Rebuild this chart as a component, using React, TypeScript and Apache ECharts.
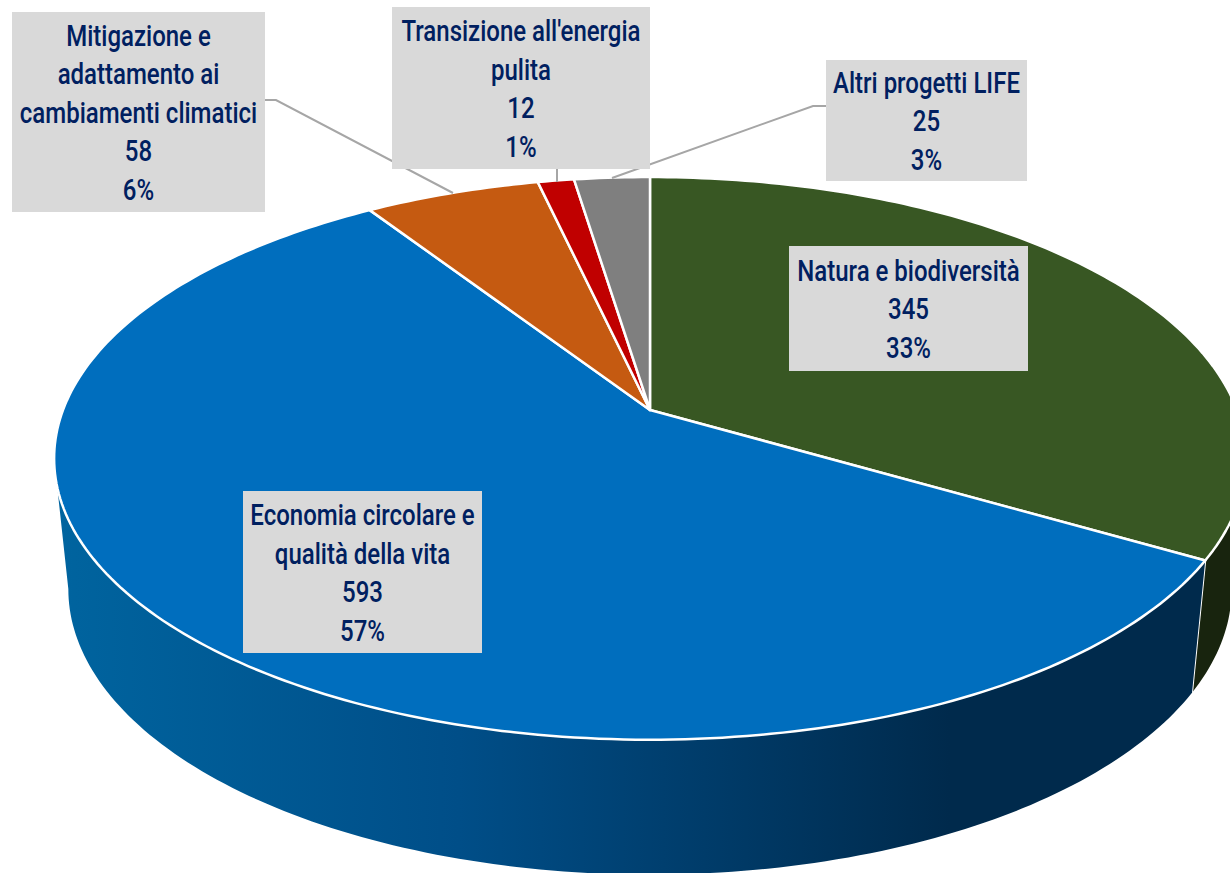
import React, { useEffect, useRef } from "react";
import * as echarts from "echarts";

const categories = [
  "Natura e biodiversità",
  "Economia circolare e\nqualità della vita",
  "Mitigazione e\nadattamento ai\ncambiamenti climatici",
  "Transizione all'energia\npulita",
  "Altri progetti LIFE",
];
const values = [345, 593, 58, 12, 25];
const percents = ["33%", "57%", "6%", "1%", "3%"];

const topColors = ["#385723", "#006EBE", "#C55A11", "#C00000", "#7F7F7F"];

// label boxes: x, y, w, h
const boxes = [
  [789, 246, 239, 125],
  [243, 491, 239, 162],
  [12, 12, 253, 200],
  [392, 7, 258, 162],
  [826, 60, 201, 121],
];
const leaders = [
  [[265, 100], [276, 100], [453, 193]],
  [[612, 178], [813, 106], [826, 106]],
  [[557, 169], [557, 182]],
];

// projection of the disc (perspective view)
const CX = 650;
const K = 0.172;
const TOP = { a: 587, b: 273, y0: 410 };
const BOTTOM = { a: 573, b: 277, y0: 540 };
// the wall is only visible between the two tangent points of the disc
const FRONT_START = Math.acos(-K);
const FRONT_END = Math.PI * 2 - FRONT_START;

const total = values.reduce((s, v) => s + v, 0);
const angleOf = (i: number) => {
  let s = 0;
  for (let j = 0; j < i; j++) s += values[j];
  return (s / total) * Math.PI * 2;
};
const project = (t: number, d: { a: number; b: number; y0: number }) => {
  const u = Math.sin(t);
  const v = Math.cos(t);
  const w = 1 + K * v;
  return [CX + (d.a * u) / w, d.y0 - (d.b * v) / w];
};
const rim = (a0: number, a1: number, d: { a: number; b: number; y0: number }) => {
  const n = Math.max(2, Math.ceil(Math.abs(a1 - a0) / (Math.PI / 180)));
  const pts: number[][] = [];
  for (let i = 0; i <= n; i++) pts.push(project(a0 + ((a1 - a0) * i) / n, d));
  return pts;
};

const wallFills = () => [
  "#18240E",
  new echarts.graphic.LinearGradient(
    57, 0, 950, 0,
    [
      { offset: 0, color: "#00649F" },
      { offset: 0.45, color: "#004E88" },
      { offset: 1, color: "#002A4C" },
    ],
    true
  ),
  "#7A3A0C",
  "#7A0000",
  "#4D4D4D",
];

const wallItem = (params: any, api: any) => {
  const i = params.dataIndex;
  api.value(0);
  const a0 = Math.max(angleOf(i), FRONT_START);
  const a1 = Math.min(angleOf(i + 1), FRONT_END);
  if (a1 <= a0) return { type: "group", children: [] };
  const fills = wallFills();
  const children: any[] = [
    {
      type: "polygon",
      shape: { points: [...rim(a0, a1, TOP), ...rim(a1, a0, BOTTOM)] },
      style: { fill: fills[i] },
    },
  ];
  if (angleOf(i + 1) < FRONT_END) {
    const p = project(a1, TOP);
    const q = project(a1, BOTTOM);
    children.push({
      type: "line",
      shape: { x1: p[0], y1: p[1], x2: q[0], y2: q[1] },
      style: { stroke: "#FFFFFF", lineWidth: 2 },
    });
  }
  return { type: "group", children };
};

const topItem = (params: any, api: any) => {
  const i = params.dataIndex;
  api.value(0);
  const a0 = angleOf(i);
  const a1 = angleOf(i + 1);
  return {
    type: "polygon",
    shape: { points: [[CX, TOP.y0], ...rim(a0, a1, TOP)] },
    style: { fill: topColors[i], stroke: "#FFFFFF", lineWidth: 2.5, lineJoin: "round" },
  };
};

const leaderItem = (params: any) => ({
  type: "polyline",
  shape: { points: leaders[params.dataIndex] },
  style: { stroke: "#A6A6A6", lineWidth: 2, fill: "none" },
});

const labelItem = (params: any) => {
  const i = params.dataIndex;
  const [x, y, w, h] = boxes[i];
  return {
    type: "group",
    children: [
      { type: "rect", shape: { x, y, width: w, height: h }, style: { fill: "#D9D9D9" } },
      {
        type: "text",
        x: x + w / 2,
        y: y + h / 2 + 1,
        scaleX: 0.8,
        style: {
          text: `${categories[i]}\n${values[i]}\n${percents[i]}`,
          x: 0,
          y: 0,
          align: "center",
          verticalAlign: "middle",
          fontFamily: "Roboto, sans-serif",
          fontSize: 30,
          fontWeight: 500,
          lineHeight: 38.5,
          fill: "#002060",
        },
      },
    ],
  };
};

export default function App() {
  const ref = useRef<HTMLDivElement>(null);
  useEffect(() => {
    document.body.style.margin = "0";
    const chart = echarts.init(ref.current!, undefined, { renderer: "svg" });
    const sliceData = values.map((v) => [v]);
    chart.setOption({
      animation: false,
      backgroundColor: "#FFFFFF",
      series: [
        { type: "custom", coordinateSystem: "none", silent: true, z: 1, data: sliceData, renderItem: wallItem },
        { type: "custom", coordinateSystem: "none", silent: true, z: 2, data: sliceData, renderItem: topItem },
        { type: "custom", coordinateSystem: "none", silent: true, z: 3, data: leaders.map((_, i) => [i]), renderItem: leaderItem },
        { type: "custom", coordinateSystem: "none", silent: true, z: 4, data: sliceData, renderItem: labelItem },
      ],
    });
    return () => chart.dispose();
  }, []);
  return <div ref={ref} style={{ width: 1230, height: 873 }} />;
}
